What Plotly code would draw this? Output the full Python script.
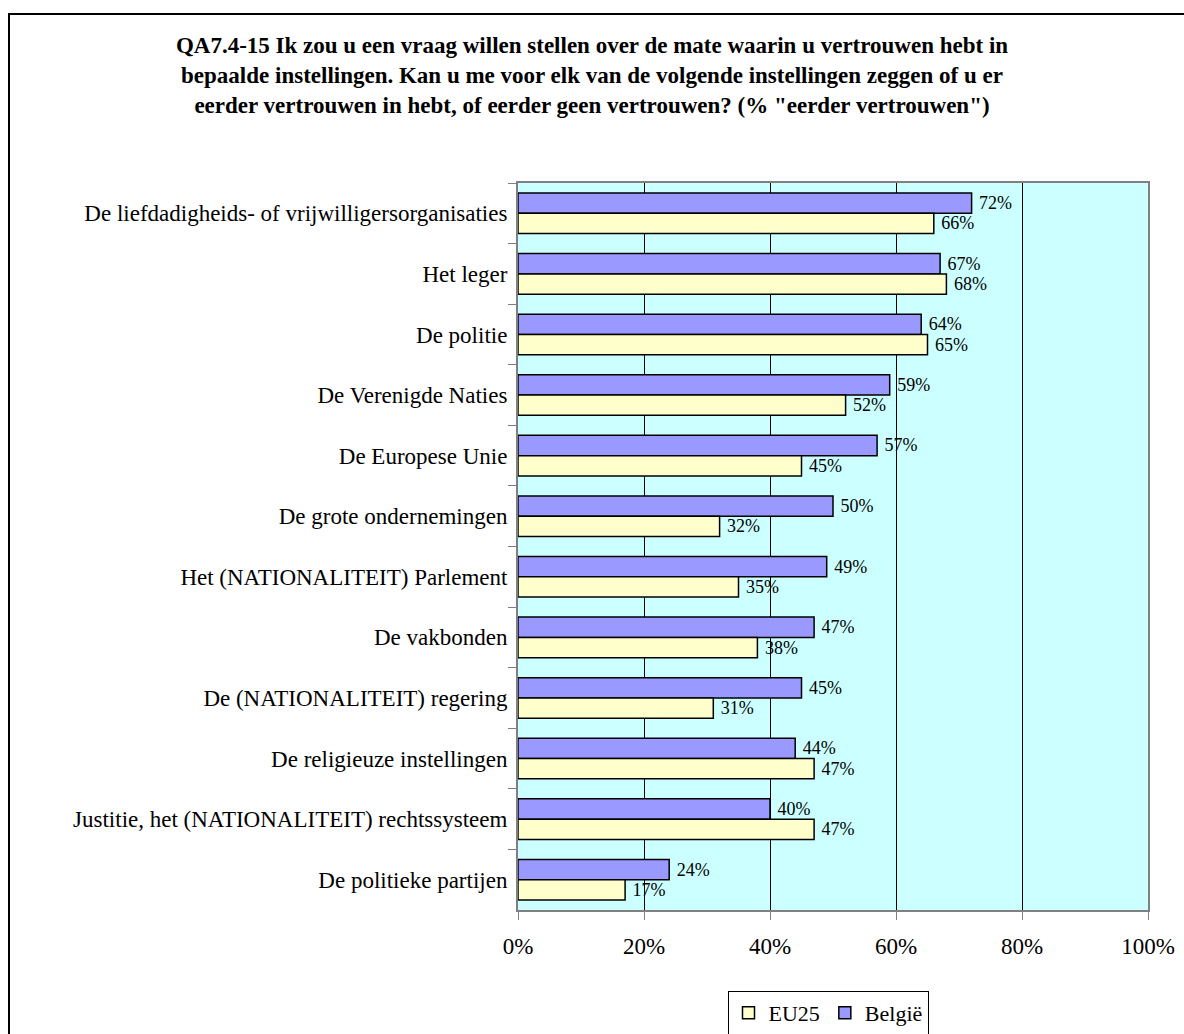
import plotly.graph_objects as go

categories = [
    "De liefdadigheids- of vrijwilligersorganisaties",
    "Het leger",
    "De politie",
    "De Verenigde Naties",
    "De Europese Unie",
    "De grote ondernemingen",
    "Het (NATIONALITEIT) Parlement",
    "De vakbonden",
    "De (NATIONALITEIT) regering",
    "De religieuze instellingen",
    "Justitie, het (NATIONALITEIT) rechtssysteem",
    "De politieke partijen",
]
belgie = [72, 67, 64, 59, 57, 50, 49, 47, 45, 44, 40, 24]
eu25 = [66, 68, 65, 52, 45, 32, 35, 38, 31, 47, 47, 17]
x_ticks = [0, 20, 40, 60, 80, 100]
x_tick_labels = ["0%", "20%", "40%", "60%", "80%", "100%"]

title_text = ("<b>QA7.4-15 Ik zou u een vraag willen stellen over de mate waarin u vertrouwen hebt in<br>"
              "bepaalde instellingen. Kan u me voor elk van de volgende instellingen zeggen of u er<br>"
              "eerder vertrouwen in hebt, of eerder geen vertrouwen? (% \"eerder vertrouwen\")</b>")

FONT = "Liberation Serif, Times New Roman, serif"

W, H = 1184, 1034
L, R, T, B = 518, 1148, 183, 910  # plot area in pixels

fig = go.Figure()
fig.add_trace(go.Bar(
    y=categories, x=belgie, name="België", orientation="h",
    marker=dict(color="#9999FF", line=dict(color="black", width=1.5)),
    text=[f"\u00a0{v}%" for v in belgie], textposition="outside",
    textfont=dict(family=FONT, size=18, color="black"),
    legendrank=2, cliponaxis=False,
))
fig.add_trace(go.Bar(
    y=categories, x=eu25, name="EU25", orientation="h",
    marker=dict(color="#FFFFCC", line=dict(color="black", width=1.5)),
    text=[f"\u00a0{v}%" for v in eu25], textposition="outside",
    textfont=dict(family=FONT, size=18, color="black"),
    legendrank=1, cliponaxis=False,
))

def px_x(x):
    return (x - L) / (R - L)

def px_y(y):
    return (B - y) / (B - T)

fig.update_layout(
    width=W, height=H,
    margin=dict(l=L, r=W - R, t=T, b=H - B, autoexpand=False),
    paper_bgcolor="white", plot_bgcolor="#CCFFFF",
    font=dict(family=FONT, size=23, color="black"),
    barmode="group", bargap=0.33, bargroupgap=0,
    title=dict(text=title_text, x=0.5, xanchor="center", y=1 - 53 / H, yanchor="top",
               font=dict(family=FONT, size=23, color="black")),
    legend=dict(orientation="h", x=px_x(828), xanchor="center", y=px_y(991), yanchor="top",
                bordercolor="black", borderwidth=1, bgcolor="white",
                font=dict(family=FONT, size=22), itemwidth=30, traceorder="normal"),
    showlegend=True,
)
fig.update_xaxes(
    range=[0, 100], tickvals=x_ticks, ticktext=x_tick_labels,
    showgrid=True, gridcolor="black", gridwidth=1,
    ticks="outside", ticklen=8, tickcolor="#808080",
    showline=True, linecolor="#808080", linewidth=2, mirror=True,
    zeroline=False, ticklabelstandoff=6,
    tickfont=dict(family=FONT, size=23),
)
fig.update_yaxes(
    autorange="reversed", type="category",
    ticks="outside", ticklen=8, tickcolor="#808080", tickson="boundaries",
    showline=True, linecolor="#808080", linewidth=2, mirror=True,
    showgrid=False, ticklabelstandoff=4,
    tickfont=dict(family=FONT, size=23),
)
fig.add_shape(type="rect", xref="paper", yref="paper",
              x0=px_x(9), x1=px_x(1250), y0=px_y(1100), y1=px_y(14),
              line=dict(color="black", width=2), fillcolor="rgba(0,0,0,0)", layer="below")

fig.write_html("out.html", config={"displayModeBar": False},
               post_script="document.body.style.margin='0px';document.body.style.overflow='hidden';")
